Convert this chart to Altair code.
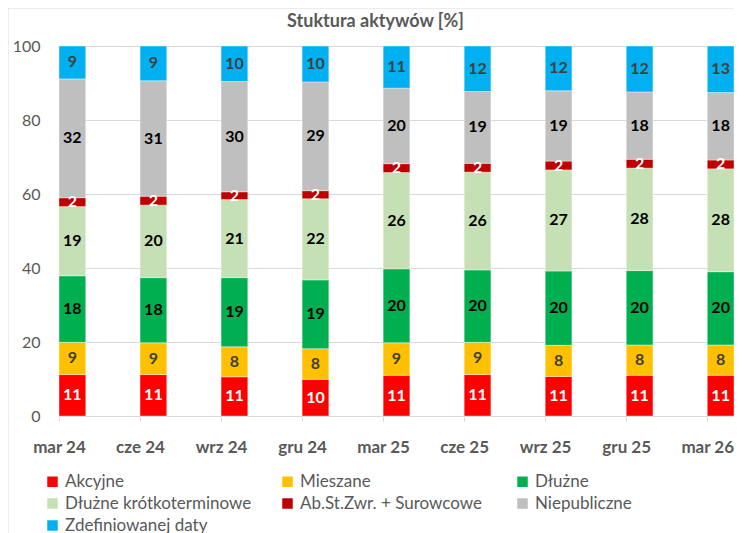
import altair as alt
import pandas as pd

periods = ["mar 24", "cze 24", "wrz 24", "gru 24", "mar 25", "cze 25", "wrz 25", "gru 25", "mar 26"]
series = ["Akcyjne", "Mieszane", "Dłużne", "Dłużne krótkoterminowe",
          "Ab.St.Zwr. + Surowcowe", "Niepubliczne", "Zdefiniowanej daty"]
colors = ["#FF0000", "#FFC000", "#00B050", "#C5E0B4", "#C00000", "#BFBFBF", "#00B0F0"]
label_colors = ["#FFFFFF", "#404040", "#000000", "#000000", "#FFFFFF", "#000000", "#404040"]
chart_title = "Stuktura aktywów [%]"

akcyjne = [11.2, 11.2, 10.6, 9.9, 11.0, 11.2, 10.7, 11.0, 11.0]
mieszane = [8.7, 8.6, 8.1, 8.3, 8.8, 8.7, 8.4, 8.2, 8.2]
dluzne = [18.0, 17.6, 18.7, 18.6, 20.0, 19.6, 20.1, 20.1, 19.8]
dluzne_kr = [18.7, 19.6, 21.1, 21.9, 26.0, 26.4, 27.3, 27.7, 27.8]
absur = [2.4, 2.4, 2.1, 2.2, 2.4, 2.4, 2.4, 2.4, 2.4]
niepubliczne = [32.1, 31.2, 29.8, 29.4, 20.4, 19.4, 19.0, 18.2, 18.2]
zdefiniowane = [8.9, 9.4, 9.6, 9.7, 11.4, 12.3, 12.1, 12.4, 12.6]

values = [akcyjne, mieszane, dluzne, dluzne_kr, absur, niepubliczne, zdefiniowane]

rows = []
for si, (name, vals) in enumerate(zip(series, values)):
    for p, v in zip(periods, vals):
        rows.append({"period": p, "series": name, "order": si, "v": v, "lc": label_colors[si]})
df = pd.DataFrame(rows)
single = pd.DataFrame({"t": [chart_title]})

FONT = "Lato"
GREY = "#595959"

base = alt.Chart(df).transform_stack(
    stack="v", groupby=["period"], sort=[alt.SortField("order", order="ascending")], as_=["y0", "y1"]
).transform_calculate(mid="(datum.y0 + datum.y1) / 2")

x_enc = alt.X("period:N", sort=periods, title=None,
              scale=alt.Scale(paddingInner=0.67, paddingOuter=0),
              axis=alt.Axis(labelAngle=0, labelFont=FONT, labelFontSize=17, labelFontWeight="bold",
                            labelColor=GREY, domainColor="#D9D9D9", tickColor="#D9D9D9",
                            tickSize=5, tickOffset=-13.4, labelPadding=18, grid=False))

bars = base.mark_bar(stroke="white", strokeWidth=0.4).encode(
    x=x_enc,
    y=alt.Y("y0:Q", scale=alt.Scale(domain=[0, 100], nice=False), title=None,
            axis=alt.Axis(values=[0, 20, 40, 60, 80, 100], labelFont=FONT, labelFontSize=16,
                          labelColor=GREY, domain=False, ticks=False, labelPadding=19,
                          gridColor="#D9D9D9", gridWidth=1)),
    y2="y1:Q",
    color=alt.Color("series:N", sort=series,
                    scale=alt.Scale(domain=series, range=colors),
                    legend=alt.Legend(title=None, orient="none", legendX=-15, legendY=427,
                                      direction="horizontal",
                                      columns=3, symbolType="square", symbolSize=110,
                                      symbolStrokeWidth=0, labelFont=FONT, labelFontSize=17,
                                      labelColor=GREY, labelLimit=300, rowPadding=4,
                                      columnPadding=27, gridAlign="all", padding=0,
                                      labelOffset=4)),
    order=alt.Order("order:Q"),
)

labels = base.mark_text(font=FONT, fontSize=16, fontWeight="bold", baseline="middle").encode(
    x=alt.X("period:N", sort=periods),
    y=alt.Y("mid:Q"),
    text=alt.Text("v:Q", format=".0f"),
    color=alt.Color("lc:N", scale=None),
)

title_mark = alt.Chart(single).mark_text(font=FONT, fontSize=18, fontWeight="bold", color=GREY,
                                         align="center", baseline="alphabetic").encode(
    x=alt.value(316.5), y=alt.value(-19), text="t:N"
)

frame_top = alt.Chart(single).mark_rule(color="#D9D9D9", strokeWidth=1).encode(
    x=alt.value(-51), x2=alt.value(700), y=alt.value(-38)
)
frame_left = alt.Chart(single).mark_rule(color="#D9D9D9", strokeWidth=1).encode(
    x=alt.value(-51), y=alt.value(-38), y2=alt.value(500)
)

chart = alt.layer(bars, labels, title_mark, frame_top, frame_left).properties(
    width=675, height=370,
    autosize=alt.AutoSizeParams(type="none"),
    padding={"left": 51, "top": 38, "right": 0, "bottom": 120},
).configure_view(stroke=None).configure(background="white")

chart.save("out.html", embed_options={"renderer": "svg", "actions": False})
